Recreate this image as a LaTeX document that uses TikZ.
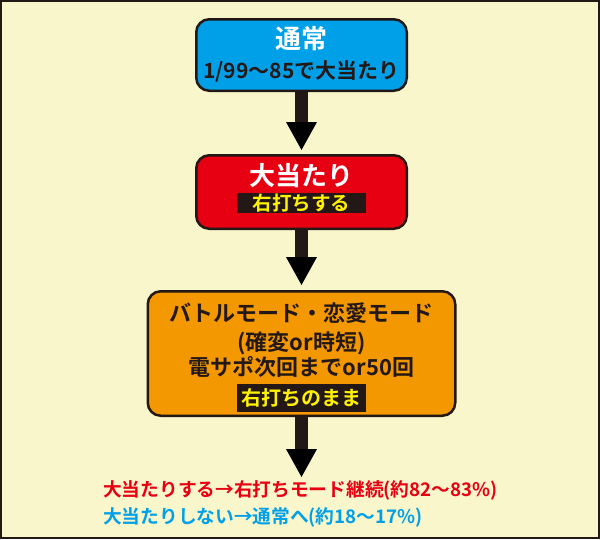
\documentclass[tikz,border=0pt]{standalone}
\usepackage{fontspec}
\setmainfont{Noto Sans CJK JP}[BoldFont={Noto Sans CJK JP Bold}]
\usetikzlibrary{arrows.meta,positioning}
\definecolor{bgyellow}{HTML}{FAF6CC}
\definecolor{ink}{HTML}{231815}
\definecolor{normalblue}{HTML}{00A0E9}
\definecolor{hitred}{HTML}{E60012}
\definecolor{modeorange}{HTML}{F39800}
\definecolor{tagyellow}{HTML}{FFF100}

\begin{document}
\begin{tikzpicture}[x=1pt,y=-1pt,node distance=62pt,
  box node/.style={draw=ink,line width=2.5pt,rounded corners=13pt,minimum width=210.5pt,inner sep=0pt},
  title text/.style={font=\bfseries\fontsize{26pt}{30pt}\selectfont,inner sep=0pt,text height=0.88em,text depth=0.12em},
  body text/.style={font=\bfseries\fontsize{21pt}{24pt}\selectfont,text=ink,inner sep=0pt,text height=0.88em,text depth=0.12em},
  mode text/.style={body text,font=\bfseries\fontsize{22pt}{26pt}\selectfont},
  tag node/.style={fill=ink,text=tagyellow,font=\bfseries\fontsize{19.5pt}{22pt}\selectfont,minimum width=129pt,inner sep=0pt},
  note text/.style={font=\bfseries\fontsize{18.7pt}{22pt}\selectfont,anchor=west,inner sep=0pt,text height=0.88em,text depth=0.12em},
  big arrow/.style={draw=ink,line width=13pt,-{Triangle[width=31pt,length=28pt,line width=0pt]}}]

  % background and frame
  \draw[fill=bgyellow,draw=ink,line width=2pt] (1,1) rectangle (599,538);
  \useasboundingbox (0,0) rectangle (600,539);

  % boxes
  \node[box node,fill=normalblue,minimum height=71.5pt] (normal) at (301.5,55) {};
  \node[box node,fill=hitred,minimum height=73.5pt,below=of normal] (hit) {};
  \node[box node,fill=modeorange,minimum width=307.5pt,minimum height=124.5pt,below=60pt of hit] (mode) {};
  \coordinate[below=60pt of mode] (next);

  % texts in the boxes
  \node[title text,text=white] (normal title) at ([yshift=-27pt]normal.north) {通常};
  \node[body text] (normal odds) at ([yshift=-57pt]normal.north) {1/99〜85で大当たり};
  \node[title text,text=white] (hit title) at ([yshift=-28pt]hit.north) {大当たり};
  \node[tag node,minimum height=20pt] (hit tag) at ([yshift=-49pt]hit.north) {右打ちする};
  \node[mode text] (mode title) at ([yshift=-28pt]mode.north) {バトルモード・恋愛モード};
  \node[mode text] (mode kind) at ([yshift=-57pt]mode.north) {(確変or時短)};
  \node[mode text] (mode span) at ([yshift=-82pt]mode.north) {電サポ次回までor50回};
  \node[tag node,font=\bfseries\fontsize{20pt}{24pt}\selectfont,minimum height=28pt] (mode tag) at ([yshift=-108pt]mode.north) {右打ちのまま};

  % results
  \node[note text,text=hitred] (keep) at (103,493) {大当たりする→右打ちモード継続(約82〜83\%)};
  \node[note text,text=normalblue] (back) at (103,520) {大当たりしない→通常へ(約18〜17\%)};

  \path[big arrow]
    (normal) edge[shorten >=4pt] (hit)
    (hit) edge[shorten >=5pt] (mode)
    (mode) edge (next);
\end{tikzpicture}
\end{document}
